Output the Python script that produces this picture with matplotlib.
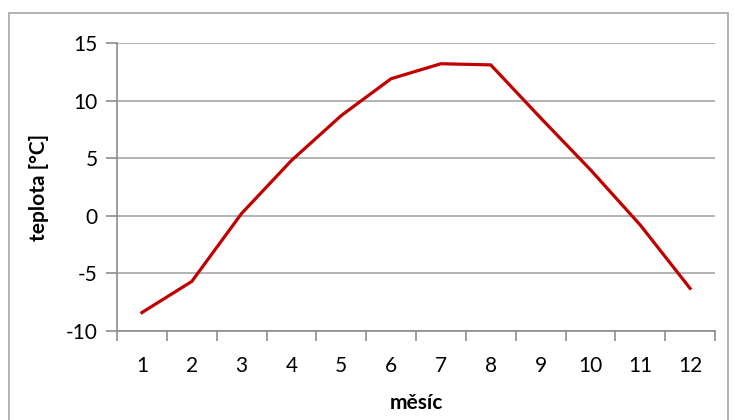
import numpy as np
from matplotlib import pyplot as plt
from matplotlib.patches import Rectangle

# monthly temperature
months = list(range(1, 13))
temps = [-8.4, -5.7, 0.2, 4.8, 8.7, 11.9, 13.2, 13.1, 8.5, 4.0, -0.8, -6.3]
yticks = [-10, -5, 0, 5, 10, 15]

plt.rcParams['font.family'] = ['Lato', 'DejaVu Sans']
grey = '#8c8c8c'

fig = plt.figure(figsize=(7.35, 4.2), dpi=100)
ax = fig.add_axes([117/735, 89/420, 598/735, 288/420])

# chart border
fig.patches.append(Rectangle((9/735, -0.05), 719/735, 1.05 - 13/420,
                             transform=fig.transFigure, fill=False,
                             edgecolor='#a6a6a6', linewidth=1.2))

ax.plot(months, temps, color='#c00000', linewidth=2.3, solid_joinstyle='miter')

ax.set_xlim(0.5, 12.5)
ax.set_ylim(-10, 15)
ax.set_yticks(yticks)
ax.set_yticklabels([str(v) for v in yticks])
ax.yaxis.grid(True, color='#a6a6a6', linewidth=1.2)
ax.set_axisbelow(True)

# category ticks between months, labels centered
ax.set_xticks(np.arange(0.5, 13, 1))
ax.set_xticklabels([])
ax.set_xticks(months, minor=True)
ax.set_xticklabels([str(m) for m in months], minor=True)
ax.tick_params(axis='x', which='major', length=7, width=1.2, color=grey)
ax.tick_params(axis='x', which='minor', length=0, pad=18, labelsize=15)
ax.tick_params(axis='y', length=8, width=1.2, color=grey, pad=6, labelsize=15)

for s in ['top', 'right']:
    ax.spines[s].set_visible(False)
for s in ['left', 'bottom']:
    ax.spines[s].set_color(grey)
    ax.spines[s].set_linewidth(1.2)

ax.set_xlabel('měsíc', fontsize=15, fontweight='bold', labelpad=12)
ax.set_ylabel('teplota [°C]', fontsize=15, fontweight='bold', labelpad=12)

fig.savefig('out.png', dpi=100)
